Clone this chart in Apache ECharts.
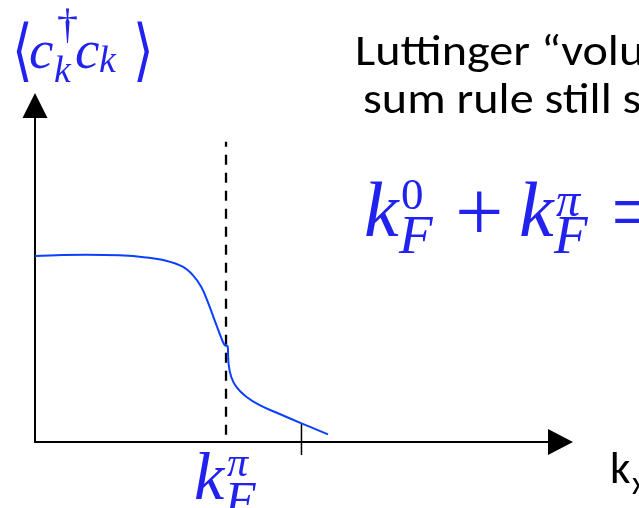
<!DOCTYPE html>
<html>
<head>
<meta charset="utf-8">
<script src="https://cdn.jsdelivr.net/npm/echarts@6/dist/echarts.min.js"></script>
<style>
  html, body { margin: 0; padding: 0; background: #ffffff; }
  #chart { width: 639px; height: 508px; }
</style>
</head>
<body>
<div id="chart"></div>
<script>
// Momentum along k_x (in units of k_F^pi) and the occupation <c_k^dagger c_k> (plateau = 1)
const momentum   = [0, 0.266, 0.441, 0.581, 0.686, 0.773, 0.826, 0.870, 0.904, 0.940, 0.966, 0.992,
                    1.009, 1.013, 1.027, 1.054, 1.106, 1.176, 1.281, 1.395, 1.534];
const occupation = [0.997, 1.004, 1.001, 0.990, 0.972, 0.940, 0.895, 0.833, 0.753, 0.654, 0.583, 0.520,
                    0.511, 0.422, 0.350, 0.296, 0.243, 0.198, 0.150, 0.100, 0.041];

// Fermi momentum k_F^pi (dashed marker) and the second tick on the k_x axis
const fermiK      = [1, 1];
const fermiOcc    = [1.61, 0];
const tickK       = [1.395, 1.395];
const tickOcc     = [0.100, -0.07];

// Axis extents
const kRange   = [0, 2.751];
const occRange = [0, 1.805];

const BLUE = '#2222ee';
const CURVE = '#0a40ff';
const MATH = '"Liberation Serif", "DejaVu Serif", serif';
const SANS = 'Carlito, Lato, "Open Sans", sans-serif';

// one piece of typeset text, placed by its baseline
function glyph(text, x, baseline, size, opt) {
  opt = opt || {};
  const slant = opt.italic === false ? 'normal' : 'italic';
  const family = opt.family || MATH;
  const weight = opt.weight || 'normal';
  return {
    type: 'text',
    x: x,
    y: baseline - (opt.mid != null ? opt.mid : 0.25) * size,
    scaleX: opt.scaleX || 1,
    silent: true,
    style: {
      text: text,
      font: slant + ' ' + weight + ' ' + size + 'px ' + family,
      fill: opt.color || BLUE,
      align: 'left',
      verticalAlign: 'middle'
    }
  };
}

const pairs = (xs, ys) => xs.map((x, i) => [x, ys[i]]);

const chart = echarts.init(document.getElementById('chart'), null, { renderer: 'canvas' });

const axisCommon = {
  type: 'value',
  splitLine: { show: false },
  axisTick: { show: false },
  axisLabel: { show: false },
  silent: true
};

const bodyText = { italic: false, family: SANS, color: '#000000', scaleX: 1.12 };
const bracket = { italic: false, family: '"DejaVu Sans", sans-serif', scaleX: 0.78 };

chart.setOption({
  animation: false,
  backgroundColor: '#ffffff',
  grid: { left: 35, right: 78.5, top: 105.4, bottom: 66, containLabel: false },
  xAxis: Object.assign({}, axisCommon, {
    min: kRange[0], max: kRange[1],
    axisLine: {
      show: true, onZero: false,
      symbol: ['none', 'triangle'], symbolSize: [26, 25],
      lineStyle: { color: '#000000', width: 2 }
    }
  }),
  yAxis: Object.assign({}, axisCommon, {
    min: occRange[0], max: occRange[1],
    axisLine: {
      show: true, onZero: false,
      symbol: ['none', 'triangle'], symbolSize: [25, 25],
      lineStyle: { color: '#000000', width: 2 }
    }
  }),
  series: [
    {
      name: 'fermi',
      type: 'line',
      data: pairs(fermiK, fermiOcc),
      showSymbol: false,
      clip: false,
      lineStyle: { color: '#000000', width: 2.3, type: [10, 8], dashOffset: 5 }
    },
    {
      name: 'tick',
      type: 'line',
      data: pairs(tickK, tickOcc),
      showSymbol: false,
      clip: false,
      lineStyle: { color: '#000000', width: 1.5 }
    },
    {
      name: 'occupation',
      type: 'line',
      data: pairs(momentum, occupation),
      smooth: 0.4,
      showSymbol: false,
      clip: false,
      lineStyle: { color: CURVE, width: 2 }
    }
  ],
  graphic: [
    // <c_k^dagger c_k>
    glyph('\u27E8', 12, 72, 68, bracket),
    glyph('c', 29, 67, 55),
    glyph('\u2020', 57, 37, 42, { italic: false }),
    glyph('k', 54, 82, 38),
    glyph('c', 75, 67, 55),
    glyph('k', 99, 72, 38),
    glyph('\u27E9', 133, 72, 68, bracket),

    // Luttinger sum rule text
    glyph('Luttinger \u201Cvolume\u201D', 355, 65, 43, bodyText),
    glyph('sum rule still satisfied:', 363, 113, 43, bodyText),

    // k_F^0 + k_F^pi =
    glyph('k', 364, 235, 78),
    glyph('0', 401, 208, 45, { italic: false }),
    glyph('F', 399, 252, 55),
    glyph('+', 455, 240, 86, { italic: false }),
    glyph('k', 519, 235, 78),
    glyph('\u03C0', 556, 215, 48),
    glyph('F', 554, 252, 55),
    glyph('=', 611, 240, 86, { italic: false }),

    // axis labels
    glyph('k', 194, 498, 68),
    glyph('\u03C0', 227, 475, 42),
    glyph('F', 225, 515, 50),
    glyph('k', 610, 483, 45, { italic: false, family: SANS, color: '#000000' }),
    glyph('x', 632, 494, 32, { italic: false, family: SANS, color: '#000000' })
  ]
});
</script>
</body>
</html>
